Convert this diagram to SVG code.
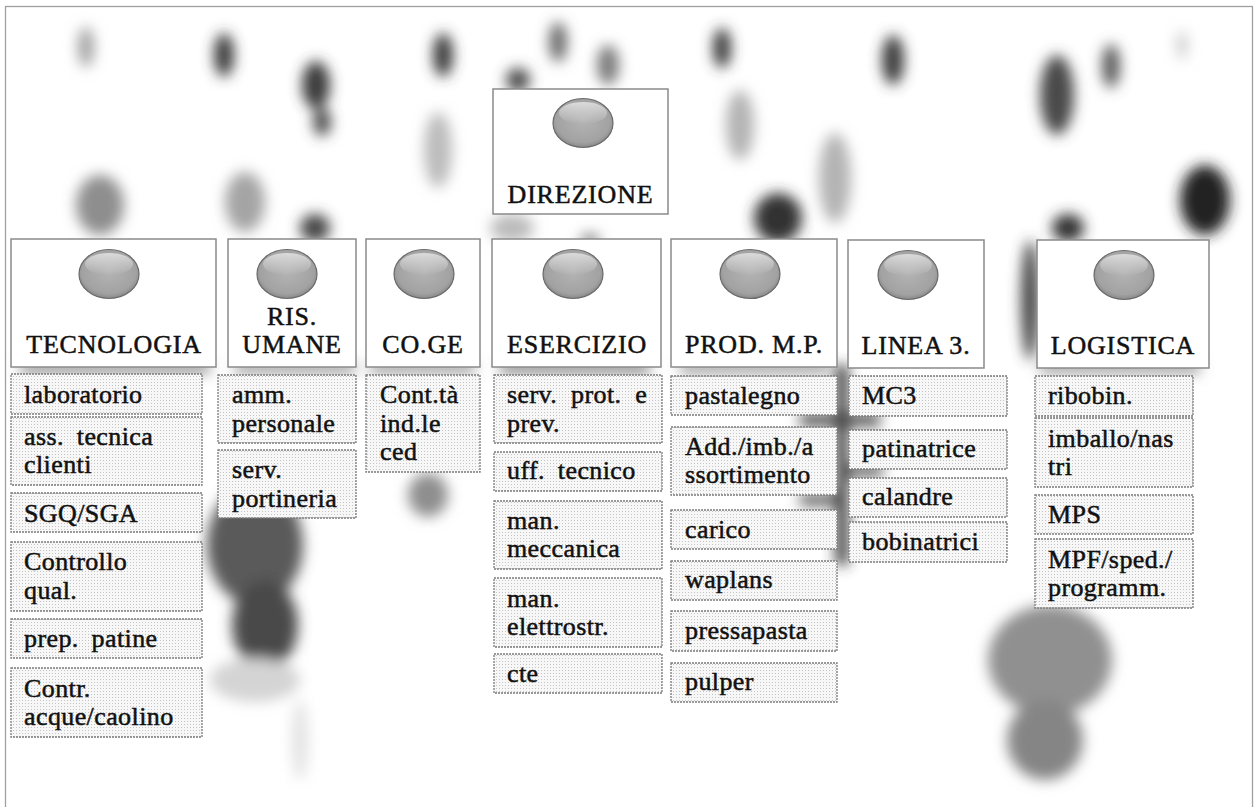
<svg xmlns="http://www.w3.org/2000/svg" width="1255" height="807" viewBox="0 0 1255 807">
<defs>
<filter id="blur" x="-50%" y="-50%" width="200%" height="200%"><feGaussianBlur stdDeviation="7"/></filter>
<pattern id="dots" width="3" height="3" patternUnits="userSpaceOnUse"><rect width="3" height="3" fill="#f7f7f7"/><rect x="1" y="1" width="1" height="1" fill="#c4c4c4"/></pattern>
<radialGradient id="ball" cx="0.5" cy="0.45" r="0.6"><stop offset="0" stop-color="#b4b4b4"/><stop offset="0.75" stop-color="#a2a2a2"/><stop offset="1" stop-color="#7c7c7c"/></radialGradient>
<linearGradient id="hl" x1="0" y1="0" x2="0" y2="1"><stop offset="0" stop-color="#ffffff" stop-opacity="0.6"/><stop offset="1" stop-color="#ffffff" stop-opacity="0"/></linearGradient>
</defs>
<style>
.hdr{fill:#fff;stroke:#8a8a8a;stroke-width:1.5}
.sub{fill:url(#dots);stroke:#7a7a7a;stroke-width:1.3;stroke-dasharray:2 1}
.ht{font-family:'Liberation Serif','Times New Roman',serif;font-size:26px;letter-spacing:0.8px;fill:#111;stroke:#111;stroke-width:0.5;text-anchor:middle}
.st{font-family:'Liberation Serif','Times New Roman',serif;font-size:26px;letter-spacing:0.4px;fill:#111;stroke:#111;stroke-width:0.5}
.ball{fill:url(#ball);stroke:#6a6a6a;stroke-width:1.2}
.bh{fill:url(#hl)}
</style>
<rect width="1255" height="807" fill="#fff"/>
<rect x="5.5" y="6.5" width="1247" height="820" fill="none" stroke="#a0a0a0" stroke-width="1.3"/>

<g id="background" filter="url(#blur)">
<ellipse cx="86" cy="47" rx="8" ry="20" fill="#a0a0a0"/>
<ellipse cx="224" cy="55" rx="10" ry="22" fill="#3a3a3a"/>
<ellipse cx="316" cy="85" rx="14" ry="24" fill="#3a3a3a"/>
<ellipse cx="322" cy="122" rx="9" ry="14" fill="#4a4a4a"/>
<ellipse cx="100" cy="205" rx="24" ry="30" fill="#8e8e8e"/>
<ellipse cx="245" cy="202" rx="20" ry="30" fill="#a4a4a4"/>
<ellipse cx="315" cy="228" rx="15" ry="14" fill="#444"/>
<ellipse cx="443" cy="55" rx="10" ry="22" fill="#3a3a3a"/>
<ellipse cx="438" cy="150" rx="14" ry="38" fill="#bcbcbc"/>
<ellipse cx="518" cy="80" rx="12" ry="12" fill="#4a4a4a"/>
<ellipse cx="558" cy="42" rx="9" ry="20" fill="#6a6a6a"/>
<ellipse cx="608" cy="65" rx="11" ry="20" fill="#7a7a7a"/>
<ellipse cx="722" cy="48" rx="9" ry="20" fill="#3a3a3a"/>
<ellipse cx="740" cy="125" rx="14" ry="35" fill="#b4b4b4"/>
<ellipse cx="778" cy="218" rx="24" ry="25" fill="#333"/>
<ellipse cx="835" cy="178" rx="16" ry="45" fill="#b4b4b4"/>
<ellipse cx="893" cy="60" rx="11" ry="25" fill="#3a3a3a"/>
<ellipse cx="1057" cy="95" rx="17" ry="40" fill="#4a4a4a"/>
<ellipse cx="1111" cy="66" rx="9" ry="22" fill="#5a5a5a"/>
<ellipse cx="1182" cy="45" rx="5" ry="14" fill="#c8c8c8"/>
<ellipse cx="1205" cy="200" rx="25" ry="35" fill="#222"/>
<ellipse cx="1068" cy="228" rx="16" ry="14" fill="#333"/>
<ellipse cx="1030" cy="300" rx="9" ry="60" fill="#444"/>
<ellipse cx="512" cy="228" rx="22" ry="14" fill="#bbb"/>
<ellipse cx="590" cy="240" rx="10" ry="6" fill="#777"/>
<ellipse cx="255" cy="545" rx="48" ry="60" fill="#5a5a5a"/>
<ellipse cx="265" cy="625" rx="33" ry="45" fill="#4a4a4a"/>
<ellipse cx="255" cy="680" rx="45" ry="22" fill="#d4d4d4"/>
<ellipse cx="300" cy="740" rx="8" ry="40" fill="#e2e2e2"/>
<ellipse cx="428" cy="495" rx="20" ry="22" fill="#8e8e8e"/>
<ellipse cx="1050" cy="660" rx="62" ry="55" fill="#909090"/>
<ellipse cx="1045" cy="740" rx="38" ry="40" fill="#858585"/>
<rect x="836" y="365" width="12" height="200" fill="#333"/>
<rect x="800" y="414" width="80" height="12" fill="#444"/>
<rect x="838" y="466" width="45" height="10" fill="#444"/>
<rect x="800" y="495" width="45" height="10" fill="#444"/>
<rect x="20" y="364" width="190" height="8" fill="#666"/>
<rect x="235" y="364" width="120" height="8" fill="#777"/>
<rect x="500" y="364" width="150" height="8" fill="#555"/>
<rect x="680" y="364" width="150" height="8" fill="#777"/>
<rect x="1040" y="364" width="160" height="8" fill="#777"/>
<rect x="370" y="364" width="105" height="8" fill="#777"/>
</g>

<g id="connectors"/>

<g id="direzione">
<rect class="hdr" x="493" y="89" width="175" height="125"/>
<ellipse class="ball" cx="583" cy="123" rx="30" ry="24.5"/>
<ellipse class="bh" cx="583" cy="113" rx="24" ry="11"/>
<text class="ht" x="580.5" y="203">DIREZIONE</text>
</g>

<g id="tecnologia">
<rect class="hdr" x="11" y="239" width="205" height="128"/>
<ellipse class="ball" cx="109" cy="274" rx="30" ry="24.5"/>
<ellipse class="bh" cx="109" cy="264" rx="24" ry="11"/>
<text class="ht" x="114" y="353">TECNOLOGIA</text>
</g>
<g id="ris-umane">
<rect class="hdr" x="228" y="239" width="128" height="128"/>
<ellipse class="ball" cx="287" cy="274" rx="30" ry="24.5"/>
<ellipse class="bh" cx="287" cy="264" rx="24" ry="11"/>
<text class="ht" x="292" y="325">RIS.</text>
<text class="ht" x="292" y="353">UMANE</text>
</g>
<g id="coge">
<rect class="hdr" x="366" y="239" width="114" height="128"/>
<ellipse class="ball" cx="424" cy="274" rx="30" ry="24.5"/>
<ellipse class="bh" cx="424" cy="264" rx="24" ry="11"/>
<text class="ht" x="423" y="353">CO.GE</text>
</g>
<g id="esercizio">
<rect class="hdr" x="492" y="239" width="169" height="128"/>
<ellipse class="ball" cx="573" cy="274" rx="30" ry="24.5"/>
<ellipse class="bh" cx="573" cy="264" rx="24" ry="11"/>
<text class="ht" x="577" y="353">ESERCIZIO</text>
</g>
<g id="prod-mp">
<rect class="hdr" x="671" y="239" width="166" height="128"/>
<ellipse class="ball" cx="750" cy="274" rx="30" ry="24.5"/>
<ellipse class="bh" cx="750" cy="264" rx="24" ry="11"/>
<text class="ht" x="754" y="353">PROD. M.P.</text>
</g>
<g id="linea3">
<rect class="hdr" x="848" y="240" width="136" height="128"/>
<ellipse class="ball" cx="908" cy="275" rx="30" ry="24.5"/>
<ellipse class="bh" cx="908" cy="265" rx="24" ry="11"/>
<text class="ht" x="916" y="354">LINEA 3.</text>
</g>
<g id="logistica">
<rect class="hdr" x="1037" y="240" width="172" height="128"/>
<ellipse class="ball" cx="1124" cy="275" rx="30" ry="24.5"/>
<ellipse class="bh" cx="1124" cy="265" rx="24" ry="11"/>
<text class="ht" x="1123" y="354">LOGISTICA</text>
</g>

<g id="tec-subs">
<g id="laboratorio"><rect class="sub" x="11" y="374" width="191" height="40"/><text class="st" x="24" y="403">laboratorio</text></g>
<g id="ass-tecnica"><rect class="sub" x="11" y="417" width="191" height="68"/><text class="st" x="24" y="445" word-spacing="6">ass. tecnica</text><text class="st" x="24" y="473">clienti</text></g>
<g id="sgq"><rect class="sub" x="11" y="493" width="191" height="39"/><text class="st" x="24" y="522">SGQ/SGA</text></g>
<g id="controllo"><rect class="sub" x="11" y="542" width="191" height="69"/><text class="st" x="24" y="570">Controllo</text><text class="st" x="24" y="599">qual.</text></g>
<g id="prep-patine"><rect class="sub" x="11" y="619" width="191" height="39"/><text class="st" x="24" y="647" word-spacing="6">prep. patine</text></g>
<g id="contr-acque"><rect class="sub" x="11" y="668" width="191" height="69"/><text class="st" x="24" y="697">Contr.</text><text class="st" x="24" y="725">acque/caolino</text></g>
</g>

<g id="ris-subs">
<g id="amm-personale"><rect class="sub" x="218" y="375" width="138" height="68"/><text class="st" x="232" y="403">amm.</text><text class="st" x="232" y="432">personale</text></g>
<g id="serv-portineria"><rect class="sub" x="218" y="450" width="138" height="68"/><text class="st" x="232" y="478">serv.</text><text class="st" x="232" y="507">portineria</text></g>
</g>

<g id="coge-subs">
<g id="cont-ind-ced"><rect class="sub" x="366" y="375" width="114" height="97"/><text class="st" x="380" y="403">Cont.tà</text><text class="st" x="380" y="432">ind.le</text><text class="st" x="380" y="460">ced</text></g>
</g>

<g id="eser-subs">
<g id="serv-prot"><rect class="sub" x="494" y="375" width="168" height="68"/><text class="st" x="507" y="403" word-spacing="7">serv. prot. e</text><text class="st" x="507" y="432">prev.</text></g>
<g id="uff-tecnico"><rect class="sub" x="494" y="452" width="168" height="39"/><text class="st" x="507" y="479" word-spacing="6">uff. tecnico</text></g>
<g id="man-meccanica"><rect class="sub" x="494" y="501" width="168" height="68"/><text class="st" x="507" y="529">man.</text><text class="st" x="507" y="557">meccanica</text></g>
<g id="man-elettrostr"><rect class="sub" x="494" y="578" width="168" height="69"/><text class="st" x="507" y="607">man.</text><text class="st" x="507" y="635">elettrostr.</text></g>
<g id="cte"><rect class="sub" x="494" y="654" width="168" height="39"/><text class="st" x="507" y="682">cte</text></g>
</g>

<g id="prod-subs">
<g id="pastalegno"><rect class="sub" x="671" y="376" width="166" height="39"/><text class="st" x="685" y="404">pastalegno</text></g>
<g id="add-imb"><rect class="sub" x="671" y="427" width="166" height="68"/><text class="st" x="685" y="455">Add./imb./a</text><text class="st" x="685" y="483">ssortimento</text></g>
<g id="carico"><rect class="sub" x="671" y="510" width="166" height="39"/><text class="st" x="685" y="538">carico</text></g>
<g id="waplans"><rect class="sub" x="671" y="561" width="166" height="39"/><text class="st" x="685" y="588">waplans</text></g>
<g id="pressapasta"><rect class="sub" x="671" y="611" width="166" height="40"/><text class="st" x="685" y="639">pressapasta</text></g>
<g id="pulper"><rect class="sub" x="671" y="663" width="166" height="39"/><text class="st" x="685" y="690">pulper</text></g>
</g>

<g id="linea-subs">
<g id="mc3"><rect class="sub" x="849" y="376" width="158" height="40"/><text class="st" x="862" y="404">MC3</text></g>
<g id="patinatrice"><rect class="sub" x="849" y="430" width="158" height="39"/><text class="st" x="862" y="457">patinatrice</text></g>
<g id="calandre"><rect class="sub" x="849" y="478" width="158" height="39"/><text class="st" x="862" y="505">calandre</text></g>
<g id="bobinatrici"><rect class="sub" x="849" y="522" width="158" height="40"/><text class="st" x="862" y="550">bobinatrici</text></g>
</g>

<g id="log-subs">
<g id="ribobin"><rect class="sub" x="1035" y="376" width="158" height="40"/><text class="st" x="1048" y="404">ribobin.</text></g>
<g id="imballo"><rect class="sub" x="1035" y="418" width="158" height="69"/><text class="st" x="1048" y="447">imballo/nas</text><text class="st" x="1048" y="475">tri</text></g>
<g id="mps"><rect class="sub" x="1035" y="495" width="158" height="39"/><text class="st" x="1048" y="523">MPS</text></g>
<g id="mpf"><rect class="sub" x="1035" y="539" width="158" height="69"/><text class="st" x="1048" y="568">MPF/sped./</text><text class="st" x="1048" y="596">programm.</text></g>
</g>
</svg>
